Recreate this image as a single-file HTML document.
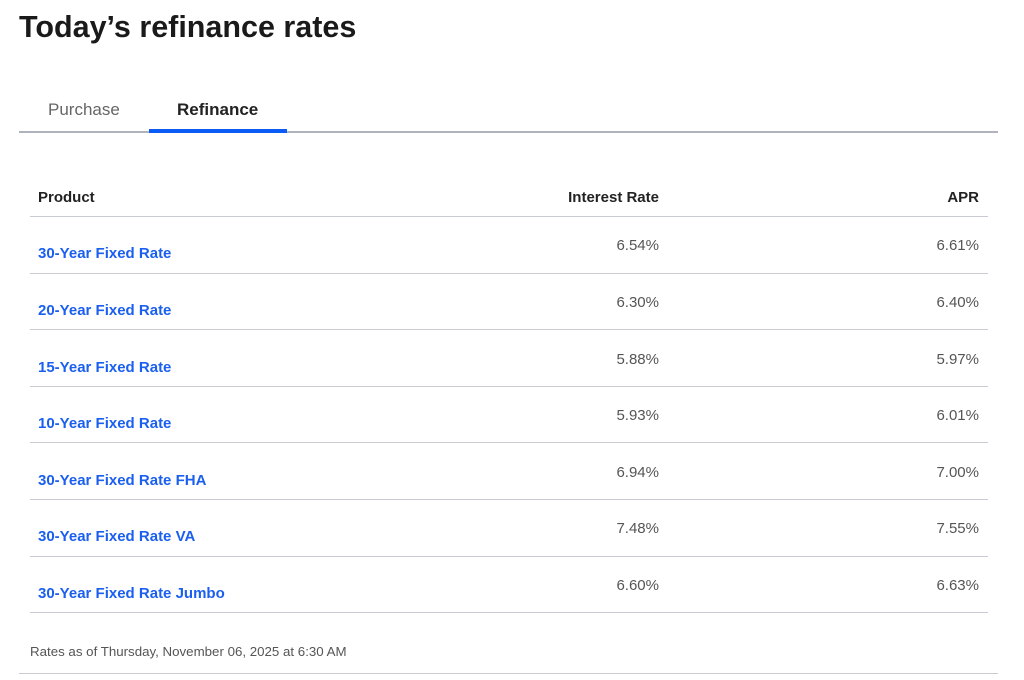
<!DOCTYPE html>
<html><head><style>
body{margin:0;width:1024px;height:680px;background:#fff;font-family:"Liberation Sans",sans-serif;position:relative;overflow:hidden}
.a{position:absolute;white-space:nowrap;line-height:1}
.h{height:1px;position:absolute;background:#c9cbd3}
.p{color:#1a5ff0;font-weight:bold;font-size:15px;left:38px}
.r{color:#555;font-size:15px;text-align:right}
</style></head><body>
<div class="a" style="left:19px;top:12px;font-size:30.5px;font-weight:bold;color:#1a1a1a">Today’s refinance rates</div>
<div class="a" style="left:48px;top:101px;font-size:17px;color:#666">Purchase</div>
<div class="a" style="left:177px;top:101px;font-size:17px;font-weight:bold;color:#222">Refinance</div>
<div class="h" style="left:19px;width:979px;top:131px;height:2px;background:#b0b3bd"></div>
<div class="a" style="left:149px;top:129px;width:138px;height:4px;background:#0a5cf5"></div>
<div class="a" style="left:38px;top:190px;font-size:15px;font-weight:bold;color:#222">Product</div>
<div class="a" style="right:365px;top:190px;font-size:15px;font-weight:bold;color:#222">Interest Rate</div>
<div class="a" style="right:45px;top:190px;font-size:15px;font-weight:bold;color:#222">APR</div>
<div class="h" style="left:30px;width:958px;top:216px"></div>

<div class="a p" style="top:246px">30-Year Fixed Rate</div><div class="a r" style="right:365px;top:238px">6.54%</div><div class="a r" style="right:45px;top:238px">6.61%</div>
<div class="h" style="left:30px;width:958px;top:273px"></div>
<div class="a p" style="top:303px">20-Year Fixed Rate</div><div class="a r" style="right:365px;top:295px">6.30%</div><div class="a r" style="right:45px;top:295px">6.40%</div>
<div class="h" style="left:30px;width:958px;top:329px"></div>
<div class="a p" style="top:360px">15-Year Fixed Rate</div><div class="a r" style="right:365px;top:352px">5.88%</div><div class="a r" style="right:45px;top:352px">5.97%</div>
<div class="h" style="left:30px;width:958px;top:386px"></div>
<div class="a p" style="top:416px">10-Year Fixed Rate</div><div class="a r" style="right:365px;top:408px">5.93%</div><div class="a r" style="right:45px;top:408px">6.01%</div>
<div class="h" style="left:30px;width:958px;top:442px"></div>
<div class="a p" style="top:473px">30-Year Fixed Rate FHA</div><div class="a r" style="right:365px;top:465px">6.94%</div><div class="a r" style="right:45px;top:465px">7.00%</div>
<div class="h" style="left:30px;width:958px;top:499px"></div>
<div class="a p" style="top:529px">30-Year Fixed Rate VA</div><div class="a r" style="right:365px;top:521px">7.48%</div><div class="a r" style="right:45px;top:521px">7.55%</div>
<div class="h" style="left:30px;width:958px;top:556px"></div>
<div class="a p" style="top:586px">30-Year Fixed Rate Jumbo</div><div class="a r" style="right:365px;top:578px">6.60%</div><div class="a r" style="right:45px;top:578px">6.63%</div>
<div class="h" style="left:30px;width:958px;top:612px"></div>

<div class="a" style="left:30px;top:645px;font-size:13.3px;color:#555">Rates as of Thursday, November 06, 2025 at 6:30 AM</div>
<div class="h" style="left:19px;width:979px;top:673px"></div>
</body></html>
